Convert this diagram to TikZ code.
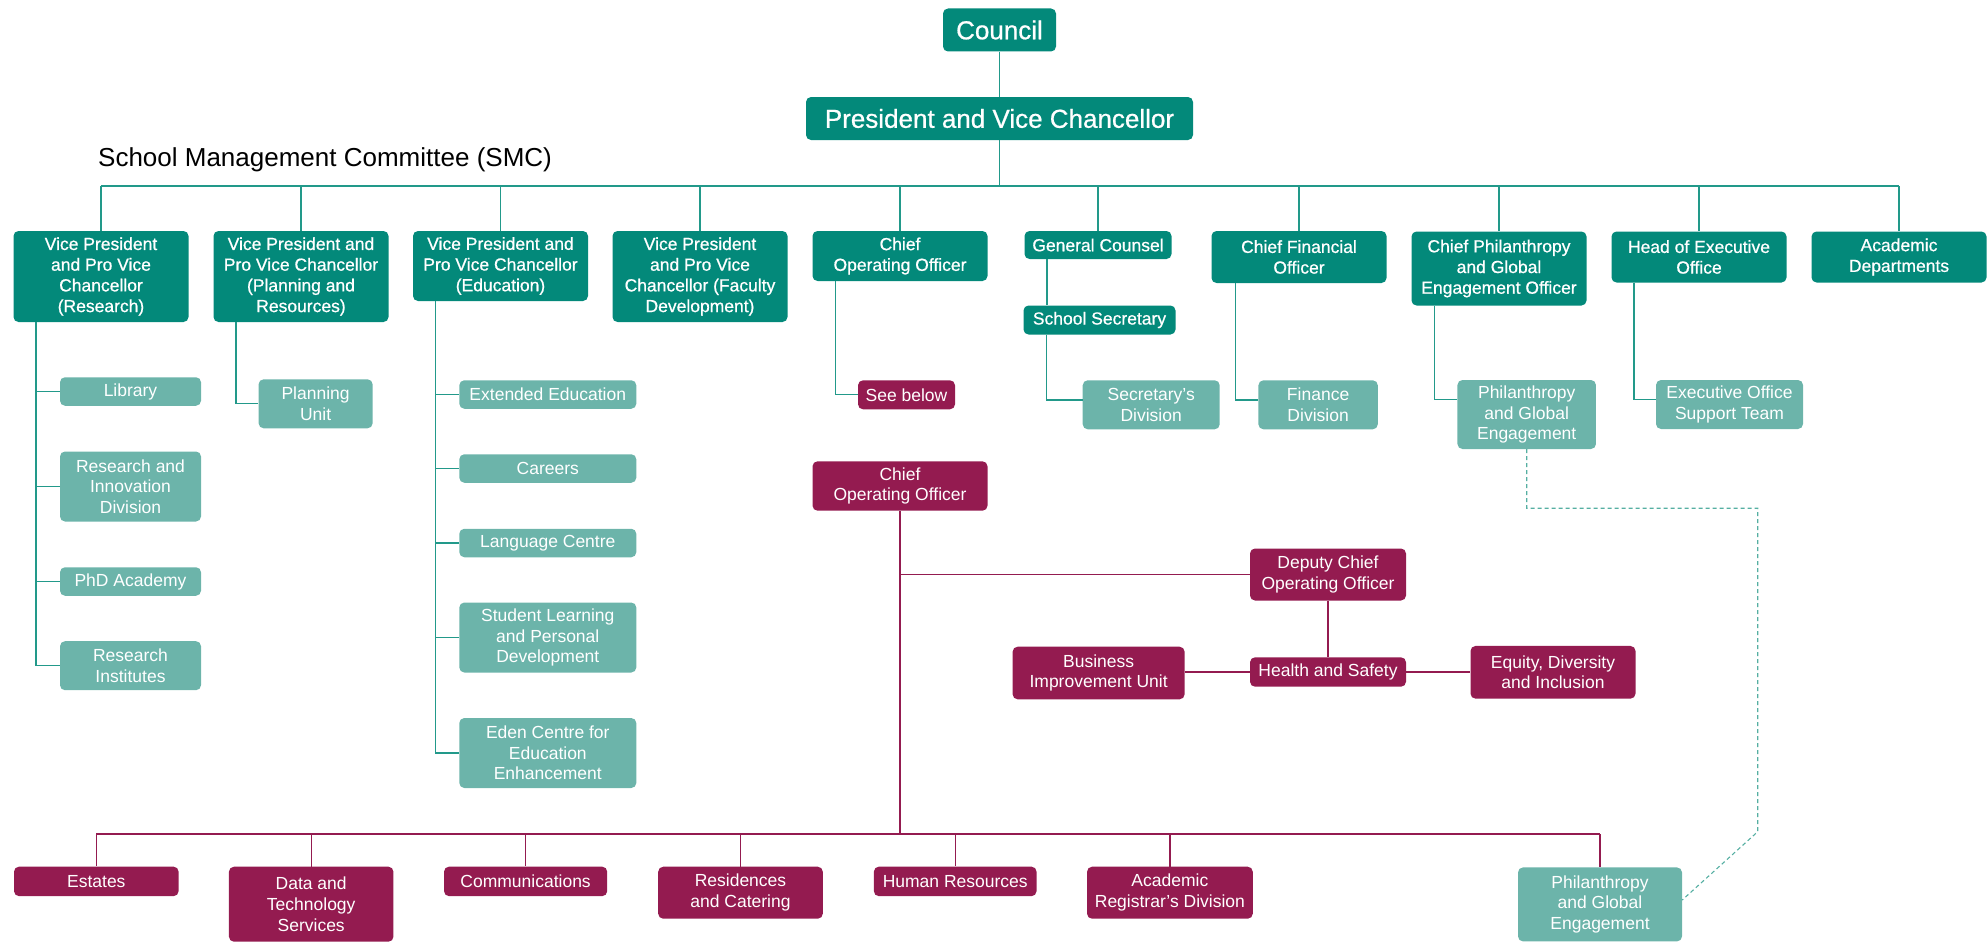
\documentclass[tikz,border=0pt]{standalone}
\usepackage{fontspec}
\setmainfont{Liberation Sans}
\newfontfamily\medfont{Liberation Sans}[FakeBold=0.7]
\definecolor{darkteal}{HTML}{03897A}
\definecolor{lightteal}{HTML}{6CB4AA}
\definecolor{maroonc}{HTML}{941B50}
\definecolor{linteal}{HTML}{22998A}
\definecolor{dashteal}{HTML}{55AFA2}
\tikzset{
  boxbase/.style={rounded corners=5pt, inner sep=0pt, align=center, text=white,
    font=\fontsize{17.5}{20.7}\selectfont},
  boxdark/.style={boxbase, fill=darkteal, font=\medfont\fontsize{17.5}{20.7}\selectfont},
  boxlight/.style={boxbase, fill=lightteal},
  boxmaroon/.style={boxbase, fill=maroonc},
  boxbig/.style={boxdark, font=\medfont\fontsize{26}{30}\selectfont},
  tealline/.style={draw=linteal, line width=1.2pt},
  maroonline/.style={draw=maroonc, line width=1.2pt},
  dashline/.style={draw=dashteal, line width=1.1pt, dash pattern=on 4pt off 3pt},
}
\begin{document}
\begin{tikzpicture}[x=1pt, y=-1pt]
\useasboundingbox (0,0) rectangle (1988,942);

% top
\node[boxbig, minimum width=113, minimum height=43] (council) at (999.5,30) {Council};
\node[boxbig, minimum width=387, minimum height=43] (pvc) at (999.5,118.5) {President and Vice Chancellor};
\node[anchor=base west, font=\fontsize{26}{30}\selectfont, inner sep=0pt] (smc) at (98,166.5) {School Management Committee (SMC)};

% row 1
\node[boxdark, minimum width=175, minimum height=91] (vp1) at (101,276.5) {Vice President\\and Pro Vice\\Chancellor\\(Research)};
\node[boxdark, minimum width=175, minimum height=91] (vp2) at (301,276.5) {Vice President and\\Pro Vice Chancellor\\(Planning and\\Resources)};
\node[boxdark, minimum width=175, minimum height=70] (vp3) at (500.5,266) {Vice President and\\Pro Vice Chancellor\\(Education)};
\node[boxdark, minimum width=175, minimum height=91] (vp4) at (700,276.5) {Vice President\\and Pro Vice\\Chancellor (Faculty\\Development)};
\node[boxdark, minimum width=175, minimum height=50] (coo) at (900,256) {Chief\\Operating Officer};
\node[boxdark, minimum width=147, minimum height=28] (gc) at (1098,245) {General Counsel};
\node[boxdark, minimum width=152, minimum height=29] (ss) at (1099.5,320) {School Secretary};
\node[boxdark, minimum width=175, minimum height=52] (cfo) at (1299,257) {Chief Financial\\Officer};
\node[boxdark, minimum width=175, minimum height=74] (cpgeo) at (1499,268.5) {Chief Philanthropy\\and Global\\Engagement Officer};
\node[boxdark, minimum width=175, minimum height=51] (heo) at (1699,257) {Head of Executive\\Office};
\node[boxdark, minimum width=175, minimum height=51] (ad) at (1899,257) {Academic\\Departments};

% row 2 (light)
\node[boxlight, minimum width=141, minimum height=28.5] (lib) at (130.5,391.5) {Library};
\node[boxlight, minimum width=141, minimum height=70] (rid) at (130.5,486.5) {Research and\\Innovation\\Division};
\node[boxlight, minimum width=141, minimum height=28.5] (phd) at (130.5,581.5) {PhD Academy};
\node[boxlight, minimum width=141, minimum height=49] (ri) at (130.5,665.7) {Research\\Institutes};
\node[boxlight, minimum width=114, minimum height=49] (pu) at (315.6,403.8) {Planning\\Unit};
\node[boxlight, minimum width=177, minimum height=28.5] (ee) at (547.8,394.5) {Extended Education};
\node[boxlight, minimum width=177, minimum height=28.5] (car) at (547.8,468.5) {Careers};
\node[boxlight, minimum width=177, minimum height=28.5] (lc) at (547.8,543) {Language Centre};
\node[boxlight, minimum width=177, minimum height=70] (slpd) at (547.8,637.5) {Student Learning\\and Personal\\Development};
\node[boxlight, minimum width=177, minimum height=70] (eden) at (547.8,753) {Eden Centre for\\Education\\Enhancement};
\node[boxmaroon, minimum width=97, minimum height=29] (see) at (906.5,394.8) {See below};
\node[boxlight, minimum width=137, minimum height=49] (sd) at (1151.2,404.8) {Secretary’s\\Division};
\node[boxlight, minimum width=119.4, minimum height=49] (fd) at (1318.1,404.8) {Finance\\Division};
\node[boxlight, minimum width=138.5, minimum height=69] (pge) at (1526.7,414.5) {Philanthropy\\and Global\\Engagement};
\node[boxlight, minimum width=147, minimum height=49] (esot) at (1729.5,404.5) {Executive Office\\Support Team};

% maroon section
\node[boxmaroon, minimum width=175, minimum height=49.4] (coo2) at (900,486) {Chief\\Operating Officer};
\node[boxmaroon, minimum width=156, minimum height=52] (dcoo) at (1328,574.5) {Deputy Chief\\Operating Officer};
\node[boxmaroon, minimum width=156, minimum height=29.4] (hs) at (1328,672) {Health and Safety};
\node[boxmaroon, minimum width=172, minimum height=52.6] (biu) at (1098.6,673) {Business\\Improvement Unit};
\node[boxmaroon, minimum width=165, minimum height=52.7] (edi) at (1553,672.3) {Equity, Diversity\\and Inclusion};

% bottom row
\node[boxmaroon, minimum width=164.6, minimum height=29.5] (est) at (96.3,881.4) {Estates};
\node[boxmaroon, minimum width=164.5, minimum height=75] (dts) at (311.2,904.2) {Data and\\Technology\\Services};
\node[boxmaroon, minimum width=163.2, minimum height=29.5] (com) at (525.6,881.4) {Communications};
\node[boxmaroon, minimum width=164.6, minimum height=52] (rc) at (740.5,892.7) {Residences\\and Catering};
\node[boxmaroon, minimum width=162.7, minimum height=29.5] (hr) at (955.2,881.4) {Human Resources};
\node[boxmaroon, minimum width=165.7, minimum height=52] (ard) at (1169.9,892.7) {Academic\\Registrar’s Division};
\node[boxlight, minimum width=164, minimum height=74] (pge2) at (1600,904.4) {Philanthropy\\and Global\\Engagement};

% coordinates
\coordinate (bus) at (0,186);
\coordinate (bbus) at (0,834);
\coordinate (dcorner) at (1757.7,831.7);

% teal connectors
\draw[tealline] (council.south) -- (pvc.north);
\draw[tealline] (pvc.south) -- (pvc.south |- bus);
\draw[tealline] (vp1.north |- bus) -- (ad.north |- bus);
\foreach \n in {vp1,vp2,vp3,vp4,coo,gc,cfo,cpgeo,heo,ad}
  \draw[tealline] (\n.north |- bus) -- (\n.north);
\foreach \n in {lib,rid,phd,ri}
  \draw[tealline] ([xshift=-65]vp1.south) |- (\n.west);
\draw[tealline] ([xshift=-65]vp2.south) |- (pu.west);
\foreach \n in {ee,car,lc,slpd,eden}
  \draw[tealline] ([xshift=-65]vp3.south) |- (\n.west);
\draw[tealline] ([xshift=-64.5]coo.south) |- (see.west);
\draw[tealline] ([xshift=-51]gc.south) -- ([xshift=-51]gc.south |- ss.north);
\draw[tealline] ([xshift=-53]ss.south) |- ([yshift=4.8]sd.west);
\draw[tealline] ([xshift=-63.2]cfo.south) |- ([yshift=4.8]fd.west);
\draw[tealline] ([xshift=-64.3]cpgeo.south) |- ([yshift=15.2]pge.west);
\draw[tealline] ([xshift=-65]heo.south) |- ([yshift=5.2]esot.west);

% maroon connectors
\draw[maroonline] (coo2.south) -- (coo2.south |- bbus);
\draw[maroonline] (coo2.south |- dcoo.west) -- (dcoo.west);
\draw[maroonline] (dcoo.south) -- (hs.north);
\draw[maroonline] (biu.east |- hs.west) -- (hs.west);
\draw[maroonline] (hs.east) -- (edi.west |- hs.east);
\draw[maroonline] (est.north |- bbus) -- (pge2.north |- bbus);
\foreach \n in {est,dts,com,rc,hr,ard,pge2}
  \draw[maroonline] (\n.north |- bbus) -- (\n.north);

% dashed link
\draw[dashline] (pge.south) -- ++(0,59) -| (dcorner) -- ([yshift=4.4]pge2.east);
\end{tikzpicture}
\end{document}
